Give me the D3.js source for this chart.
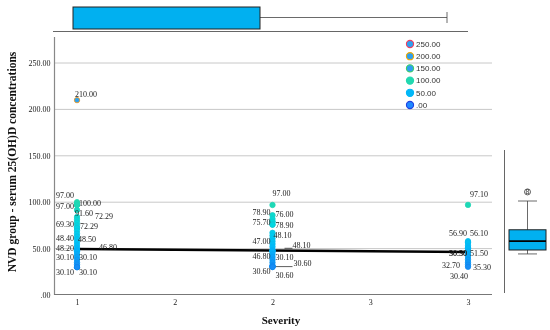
<!DOCTYPE html>
<html>
<head>
<meta charset="utf-8">
<script src="https://cdn.jsdelivr.net/npm/d3@7"></script>
<style>
  body { margin: 0; background: #fff; }
  svg { display: block; }
  #root { opacity: 0.999; }
</style>
</head>
<body>
<svg id="chart" width="550" height="330"><g id="root"></g></svg>
<script>
// values
var severities = [1, 2, 3];
var sev1 = [210, 100, 98, 97, 97, 91.6, 84, 81, 78, 75, 72.29, 72.29, 69.3, 66, 63, 60, 57, 54, 51, 48.5, 48.4, 48.2, 46.8, 44, 41, 38, 35, 33, 30.1, 30.1, 30.1, 30.1];
var sev2 = [97, 86, 82, 78.9, 78.9, 76, 75.7, 67, 64, 61, 58, 55, 52, 48.1, 48.1, 47, 46.8, 44, 41, 38, 35, 32, 30.6, 30.6, 30.6, 30.1];
var sev3 = [97.1, 58, 56.9, 56.1, 53, 51.5, 50.5, 50.3, 47, 44, 41, 38, 35.3, 32.7, 30.4];
var fitLine = [[1, 49.6], [3, 46.3]];

// point labels: [severity, text]
var labels = [
  [1, "210.00"], [1, "97.00"], [1, "97.00"], [1, "100.00"], [1, "91.60"], [1, "72.29"], [1, "69.30"], [1, "72.29"],
  [1, "48.40"], [1, "48.50"], [1, "48.20"], [1, "46.80"], [1, "30.10"], [1, "30.10"], [1, "30.10"], [1, "30.10"],
  [2, "97.00"], [2, "78.90"], [2, "76.00"], [2, "75.70"], [2, "78.90"], [2, "48.10"], [2, "47.00"], [2, "48.10"],
  [2, "46.80"], [2, "30.10"], [2, "30.60"], [2, "30.60"], [2, "30.60"],
  [3, "97.10"], [3, "56.90"], [3, "56.10"], [3, "50.50"], [3, "30.30"], [3, "51.50"], [3, "32.70"], [3, "35.30"], [3, "30.40"]
];
// label nudges in px (dx, dy) so they sit like the original
var labelOffsets = [
  [-2, -6], [-21, -10], [-21, 1], [2, 1], [-2, 3], [18, -12], [-21, -6], [3, -2],
  [-21, -12], [1, -11], [-21, -2], [22, -4], [-21, -10], [2, -10], [-21, 5], [2, 5],
  [0, -12], [-20, -10], [3, -10], [-20, -3], [3, 3], [1, -15], [-20, -10], [20, -5],
  [-20, 5], [3, -10], [21, -3], [-20, 5], [3, 9],
  [2, -11], [-19, -9], [2, -10], [-19, 5], [-19, -14], [2, 6], [-26, 1], [5, 5], [-18, 9]
];

var yTicks = [0, 50, 100, 150, 200, 250];
var xTickValues = [1, 1.5, 2, 2.5, 3];
var xTickLabels = ["1", "2", "2", "3", "3"];
var legendValues = [250, 200, 150, 100, 50, 0];

// marginal boxplots
var sevBox = {min: 1, q1: 1, median: 1, q3: 2, max: 3};
var vitBox = {min: 30.1, q1: 35.3, median: 47, q3: 62, max: 100, outlier: 112, outlierLabel: "8"};

var svg = d3.select('#root');
var serif = '"Liberation Serif", "DejaVu Serif", serif';
var sans = '"Liberation Sans", Arial, sans-serif';

var x = d3.scaleLinear().domain([1, 3]).range([77, 468]);
var y = d3.scaleLinear().domain([0, 250]).range([295, 63]);
var xTop = d3.scaleLinear().domain([1, 3]).range([73, 447]);
var yRight = d3.scaleLinear().domain([30, 100]).range([254, 201]);

var fill = d3.scaleLinear()
  .domain([0, 30, 50, 65, 78, 100, 150, 200, 250])
  .range(["#1e88ff", "#188cf5", "#00b8f8", "#00ccf0", "#00dade", "#22d8b0", "#20c0d0", "#2ea2f0", "#2ea0f0"])
  .clamp(true);
var stroke = d3.scaleLinear()
  .domain([0, 50, 100, 150, 200, 250])
  .range(["#2040e0", "#00b8f8", "#22d8b0", "#40d060", "#f0a800", "#f04060"])
  .clamp(true);

// grid
svg.append('g').selectAll('line').data(yTicks.slice(1)).join('line')
  .attr('x1', 55).attr('x2', 492)
  .attr('y1', function(d) { return y(d); }).attr('y2', function(d) { return y(d); })
  .attr('stroke', '#c8c8c8').attr('stroke-width', 1);

// y axis
var yAxis = d3.axisLeft(y).tickValues(yTicks).tickSize(0).tickPadding(4)
  .tickFormat(function(d) { return d === 0 ? ".00" : d3.format(".2f")(d); });
var gy = svg.append('g').attr('transform', 'translate(54.5,0)').call(yAxis);
gy.select('.domain').remove();
gy.selectAll('text').attr('font-family', serif).attr('font-size', 8).attr('fill', '#222');
svg.append('line').attr('x1', 54.5).attr('x2', 54.5).attr('y1', 37).attr('y2', 295)
  .attr('stroke', '#888').attr('stroke-width', 1.2);

// x axis
var xAxis = d3.axisBottom(x).tickValues(xTickValues).tickSize(0).tickPadding(5)
  .tickFormat(function(d, i) { return xTickLabels[i]; });
var gx = svg.append('g').attr('transform', 'translate(0,294.5)').call(xAxis);
gx.select('.domain').remove();
gx.selectAll('text').attr('font-family', serif).attr('font-size', 8).attr('fill', '#222');
svg.append('line').attr('x1', 54).attr('x2', 492).attr('y1', 294.5).attr('y2', 294.5)
  .attr('stroke', '#777').attr('stroke-width', 1);

// titles
svg.append('text').attr('transform', 'translate(16,162) rotate(-90)')
  .attr('text-anchor', 'middle').attr('font-family', serif).attr('font-size', 11.5).attr('font-weight', 'bold')
  .attr('fill', '#111').text('NVD group - serum 25(OH)D concentrations');
svg.append('text').attr('x', 281).attr('y', 324)
  .attr('text-anchor', 'middle').attr('font-family', serif).attr('font-size', 11).attr('font-weight', 'bold')
  .attr('fill', '#111').text('Severity');

// fit line
svg.append('line')
  .attr('x1', x(fitLine[0][0])).attr('y1', y(fitLine[0][1]))
  .attr('x2', x(fitLine[1][0])).attr('y2', y(fitLine[1][1]))
  .attr('stroke', '#000').attr('stroke-width', 2.4);

// leader lines (sev 2)
svg.append('line').attr('x1', x(2)).attr('x2', x(2) + 20).attr('y1', y(30.6)).attr('y2', y(30.6))
  .attr('stroke', '#333').attr('stroke-width', 0.8);
svg.append('line').attr('x1', x(2) + 12).attr('x2', x(2) + 20).attr('y1', y(48.1) - 2).attr('y2', y(48.1) - 2)
  .attr('stroke', '#666').attr('stroke-width', 1.2);

// points
var points = [];
[sev1, sev2, sev3].forEach(function(vals, i) {
  vals.forEach(function(v) { points.push({sev: severities[i], v: v}); });
});
svg.append('g').selectAll('circle').data(points).join('circle')
  .attr('cx', function(d) { return x(d.sev); })
  .attr('cy', function(d) { return y(d.v); })
  .attr('r', 2.7)
  .attr('fill', function(d) { return fill(d.v); })
  .attr('stroke', function(d) { return stroke(d.v); })
  .attr('stroke-width', 0.8);

// point labels
svg.append('g').selectAll('text').data(labels).join('text')
  .attr('x', function(d, i) { return x(d[0]) + labelOffsets[i][0]; })
  .attr('y', function(d, i) { return y(+d[1]) + labelOffsets[i][1]; })
  .attr('dy', '0.35em')
  .attr('font-family', serif).attr('font-size', 8).attr('fill', '#222')
  .text(function(d) { return d[1]; });

// legend
var lg = svg.append('g').selectAll('g').data(legendValues).join('g')
  .attr('transform', function(d, i) { return 'translate(410,' + (44 + i * 12.2) + ')'; });
lg.append('circle').attr('r', 3.6)
  .attr('fill', function(d) { return d >= 150 ? fill(250) : fill(d); })
  .attr('stroke', function(d) { return stroke(d); }).attr('stroke-width', 1.1);
lg.append('text').attr('x', 6).attr('dy', '0.35em')
  .attr('font-family', sans).attr('font-size', 8).attr('fill', '#333')
  .text(function(d) { return d === 0 ? ".00" : d3.format(".2f")(d); });

// top boxplot (severity)
svg.append('line').attr('x1', 53).attr('x2', 468).attr('y1', 31.5).attr('y2', 31.5)
  .attr('stroke', '#666').attr('stroke-width', 1);
svg.append('line').attr('x1', xTop(sevBox.q3)).attr('x2', xTop(sevBox.max)).attr('y1', 17.5).attr('y2', 17.5)
  .attr('stroke', '#444').attr('stroke-width', 0.8);
svg.append('line').attr('x1', xTop(sevBox.max)).attr('x2', xTop(sevBox.max)).attr('y1', 12).attr('y2', 23)
  .attr('stroke', '#444').attr('stroke-width', 0.8);
svg.append('rect').attr('x', xTop(sevBox.q1)).attr('y', 7)
  .attr('width', xTop(sevBox.q3) - xTop(sevBox.q1)).attr('height', 22)
  .attr('fill', '#00b0f0').attr('stroke', '#222').attr('stroke-width', 1);

// right boxplot (25(OH)D)
svg.append('line').attr('x1', 504.5).attr('x2', 504.5).attr('y1', 150).attr('y2', 293)
  .attr('stroke', '#666').attr('stroke-width', 1);
svg.append('line').attr('x1', 527.5).attr('x2', 527.5).attr('y1', yRight(vitBox.max)).attr('y2', yRight(vitBox.min))
  .attr('stroke', '#444').attr('stroke-width', 0.8);
[vitBox.max, vitBox.min].forEach(function(v) {
  svg.append('line').attr('x1', 518).attr('x2', 537).attr('y1', yRight(v)).attr('y2', yRight(v))
    .attr('stroke', '#444').attr('stroke-width', 0.8);
});
svg.append('rect').attr('x', 509).attr('y', yRight(vitBox.q3))
  .attr('width', 37).attr('height', yRight(vitBox.q1) - yRight(vitBox.q3))
  .attr('fill', '#00b0f0').attr('stroke', '#222').attr('stroke-width', 1);
svg.append('line').attr('x1', 509).attr('x2', 546).attr('y1', yRight(vitBox.median)).attr('y2', yRight(vitBox.median))
  .attr('stroke', '#000').attr('stroke-width', 1.8);
svg.append('circle').attr('cx', 527.5).attr('cy', yRight(vitBox.outlier)).attr('r', 3)
  .attr('fill', 'none').attr('stroke', '#333').attr('stroke-width', 0.8);
svg.append('text').attr('x', 527.5).attr('y', yRight(vitBox.outlier)).attr('dy', '0.35em')
  .attr('text-anchor', 'middle').attr('font-family', sans).attr('font-size', 7).attr('fill', '#333')
  .text(vitBox.outlierLabel);
</script>
</body>
</html>
